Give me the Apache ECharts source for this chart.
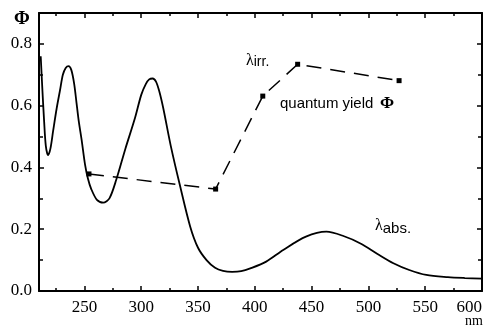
<!DOCTYPE html>
<html>
<head>
<meta charset="utf-8">
<script src="https://cdn.jsdelivr.net/npm/echarts@6/dist/echarts.min.js"></script>
<style>html,body{margin:0;padding:0;background:#fff;}#c{width:488px;height:329px;}</style>
</head>
<body>
<div id="c"></div>
<script>
// Absorption spectrum (wavelength nm, absorbance scaled to Phi axis)
const absWavelength = [211.5,213,214.5,216,218,220,222.5,225.5,228.5,231,233.5,236,238.5,241,243,245,247.5,250.5,253,256,261,266.5,272,278,286,294.5,300,304,307,310,313,316,319.5,326,334,343,350,357.5,365,372,380,388,396,410,425,445,463,478,493,508,522,536,551,570,585,600];
const absValue      = [0.76,0.65,0.55,0.47,0.44,0.46,0.52,0.59,0.65,0.70,0.722,0.728,0.715,0.67,0.61,0.55,0.49,0.41,0.365,0.33,0.295,0.286,0.30,0.36,0.46,0.56,0.635,0.67,0.685,0.688,0.678,0.645,0.59,0.47,0.343,0.21,0.14,0.10,0.075,0.065,0.062,0.064,0.073,0.095,0.133,0.176,0.192,0.178,0.154,0.12,0.09,0.068,0.052,0.045,0.042,0.040];
// Quantum yield at irradiation wavelengths
const irrWavelength = [254, 365.5, 407, 437.7, 527];
const quantumYield  = [0.379, 0.33, 0.631, 0.734, 0.681];
// Tick values
const xMajorTicks = [250,300,350,400,450,500,550,600];
const xMinorTicks = [225,275,325,375,425,475,525,575];
const yMajorTicks = [0,0.2,0.4,0.6,0.8];
const yMinorTicks = [0.1,0.3,0.5,0.7];

const serif = '"Liberation Serif", "DejaVu Serif", serif';
const sans = '"Liberation Sans", Arial, sans-serif';
const black = '#000';

const absData = absWavelength.map((w,i)=>[w,absValue[i]]);
const qyData = irrWavelength.map((w,i)=>[w,quantumYield[i]]);

function xAx(pos, ticks, len, showLine, showLabel){
  return {
    type:'value', position:pos, min:210, max:600,
    axisLine:{show:showLine, onZero:false, lineStyle:{color:black,width:2}},
    axisTick:{show:true, inside:true, length:len, customValues:ticks, lineStyle:{color:black,width:1.5}},
    axisLabel:{show:showLabel, customValues:ticks, color:black, fontFamily:serif, fontSize:17, margin:8, alignMaxLabel:'right'},
    splitLine:{show:false}
  };
}
function yAx(pos, ticks, len, showLine, showLabel){
  return {
    type:'value', position:pos, min:0, max:0.9,
    axisLine:{show:showLine, onZero:false, lineStyle:{color:black,width:2}},
    axisTick:{show:true, inside:true, length:len, customValues:ticks, lineStyle:{color:black,width:1.5}},
    axisLabel:{show:showLabel, customValues:ticks, color:black, fontFamily:serif, fontSize:17, margin:7,
      formatter:v=>v.toFixed(1)},
    splitLine:{show:false}
  };
}

const chart = echarts.init(document.getElementById('c'), null, {renderer:'canvas'});
chart.setOption({
  animation:false,
  backgroundColor:'#fff',
  grid:{left:39, right:6, top:13, bottom:38, containLabel:false},
  xAxis:[
    xAx('bottom', xMajorTicks, 5, true, true),
    xAx('bottom', xMinorTicks, 3, false, false),
    xAx('top', xMajorTicks, 5, true, false),
    xAx('top', xMinorTicks, 3, false, false)
  ],
  yAxis:[
    yAx('left', yMajorTicks, 5, true, true),
    yAx('left', yMinorTicks, 4, false, false),
    yAx('right', yMajorTicks, 5, true, false),
    yAx('right', yMinorTicks, 4, false, false)
  ],
  series:[
    {type:'line', xAxisIndex:0, yAxisIndex:0, data:absData, smooth:0.3, symbol:'none',
     lineStyle:{color:black, width:1.8}},
    {type:'line', xAxisIndex:0, yAxisIndex:0, data:qyData, smooth:false, symbol:'rect', symbolSize:5,
     itemStyle:{color:black}, lineStyle:{color:black, width:1.5, type:[15,9]}}
  ],
  graphic:[
    {type:'text', left:14, top:10, style:{text:'Φ', font:'bold 19px '+serif, fill:black}},
    {type:'text', left:465, top:314, style:{text:'nm', font:'14px '+serif, fill:black}},
    {type:'text', left:246, top:53, style:{
      text:'{l|λ}{s|irr.}', rich:{l:{font:'16px '+serif, fill:black, verticalAlign:'bottom'}, s:{font:'14px '+sans, fill:black, padding:[6,0,0,0]}}}},
    {type:'text', left:280, top:96, style:{text:'quantum yield', font:'15px '+sans, fill:black}},
    {type:'text', left:380, top:95, style:{text:'Φ', font:'bold 17px '+serif, fill:black}},
    {type:'text', left:375, top:218, style:{
      text:'{l|λ}{s|abs.}', rich:{l:{font:'16px '+serif, fill:black}, s:{font:'15px '+sans, fill:black, padding:[6,0,0,0]}}}}
  ]
});
</script>
</body>
</html>
